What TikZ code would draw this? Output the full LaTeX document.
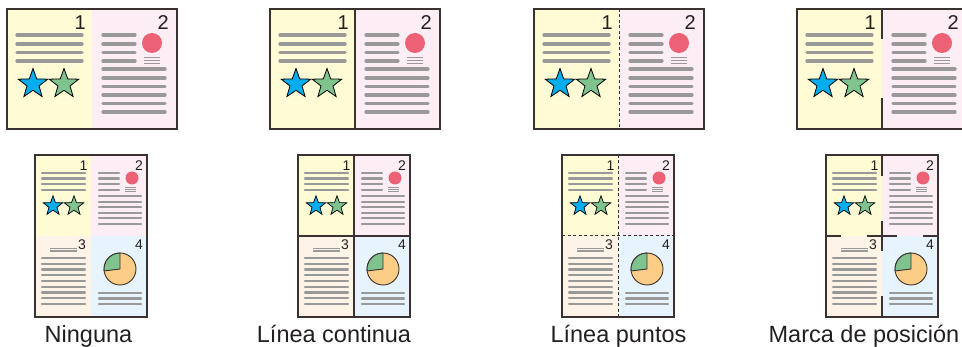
\documentclass[tikz,border=0pt]{standalone}
\usepackage{fontspec}
\setmainfont{Liberation Sans}
\usetikzlibrary{shapes.geometric}
\definecolor{pgyellow}{HTML}{FFFBD5}
\definecolor{pgpink}{HTML}{FDEDF4}
\definecolor{pgpeach}{HTML}{FEF3E7}
\definecolor{pgblue}{HTML}{E7F4FD}
\definecolor{txtline}{HTML}{999999}
\definecolor{framecol}{HTML}{3A3230}
\definecolor{starblue}{HTML}{00AEEF}
\definecolor{stargreen}{HTML}{7FC48F}
\definecolor{dotred}{HTML}{EC6173}
\definecolor{pieorange}{HTML}{FBCD86}
\definecolor{textcol}{HTML}{231F20}
\tikzset{
  bigtext/.style={line width=3.2pt, draw=txtline, line cap=round},
  smalltext/.style={line width=2.1pt, draw=txtline, line cap=round},
  tinytext/.style={line width=0.8pt, draw=txtline},
  frameline/.style={draw=framecol, line width=1.4pt},
  midsolid/.style={draw=framecol, line width=1.2pt},
  middash/.style={draw=framecol, line width=1pt, dash pattern=on 3pt off 2.5pt},
  starbig/.style={star, star points=5, star point ratio=2.45, minimum size=31pt, inner sep=0pt, draw=black, line width=0.8pt},
  starsmall/.style={star, star points=5, star point ratio=2.45, minimum size=20.5pt, inner sep=0pt, draw=black, line width=0.7pt},
  numbig/.style={font=\fontsize{20}{24}\selectfont, text=textcol, inner sep=0pt, anchor=base east},
  numsmall/.style={font=\fontsize{14}{17}\selectfont, text=textcol, inner sep=0pt, anchor=base east},
  label/.style={font=\fontsize{23.5}{28}\selectfont, text=textcol, inner sep=0pt, anchor=base},
}
\newcommand\topspread[3]{%
\begin{scope}[shift={(#1,#2)}]
  \fill[pgyellow] (0,0) rectangle (85,120);
  \fill[pgpink] (85,0) rectangle (170,120);
  \foreach \yy in {26,35,43.5,52} \draw[bigtext] (10,\yy) -- (75,\yy);
  \node[numbig] (#3na) at (79,21) {1};
  \node[starbig, fill=starblue] (#3sa) at (26,75) {};
  \node[starbig, fill=stargreen] (#3sb) at (57,75) {};
  \foreach \yy in {26,35,43.5,52} \draw[bigtext] (96,\yy) -- (128,\yy);
  \fill[dotred] (145,34) circle[radius=10pt];
  \foreach \yy in {48.5,51.5,54.5} \draw[tinytext] (137,\yy) -- (153,\yy);
  \foreach \yy in {60,69,77.5,86,94.5,103} \draw[bigtext] (96,\yy) -- (158,\yy);
  \node[numbig] (#3nb) at (162,21) {2};
  \draw[frameline] (0,0) rectangle (170,120);
\end{scope}}
\newcommand\fourup[3]{%
\begin{scope}[shift={(#1,#2)}]
  \fill[pgyellow] (0,0) rectangle (56,81);
  \fill[pgpink] (56,0) rectangle (112,81);
  \fill[pgpeach] (0,81) rectangle (56,162);
  \fill[pgblue] (56,81) rectangle (112,162);
  % page 1
  \foreach \yy in {17.7,23.5,29.3,35} \draw[smalltext] (7,\yy) -- (50,\yy);
  \node[numsmall] (#3na) at (52.5,16) {1};
  \node[starsmall, fill=starblue] (#3sa) at (18,51) {};
  \node[starsmall, fill=stargreen] (#3sb) at (39,51) {};
  % page 2
  \foreach \yy in {17.7,23.5,29.3} \draw[smalltext] (64,\yy) -- (84,\yy);
  \fill[dotred] (97,23) circle[radius=6.5pt];
  \foreach \yy in {32,34,36} \draw[tinytext] (90,\yy) -- (101,\yy);
  \draw[smalltext] (64,35) -- (84,35);
  \foreach \yy in {41,46.6,52.2,57.8,63.4,69} \draw[smalltext] (64,\yy) -- (106,\yy);
  \node[numsmall] (#3nb) at (108,16) {2};
  % page 3
  \foreach \yy in {93.3,95,96.7} \draw[tinytext] (15,\yy) -- (42,\yy);
  \node[numsmall] (#3nc) at (51,95) {3};
  \foreach \yy in {103,108.75,114.5,120.25,126,131.75,137.5,143.25,149} \draw[smalltext] (7,\yy) -- (50,\yy);
  % page 4
  \node[numsmall] (#3nd) at (108,95) {4};
  \coordinate (#3pc) at (85,114);
  \filldraw[fill=pieorange, draw=framecol, line width=0.9pt] (#3pc) circle[radius=16pt];
  \filldraw[fill=stargreen, draw=framecol, line width=0.9pt] (#3pc) -- ++(90:16pt) arc[start angle=90, end angle=187, radius=16pt] -- cycle;
  \foreach \yy in {138,143.5,149} \draw[smalltext] (64,\yy) -- (106,\yy);
  \draw[frameline] (0,0) rectangle (112,162);
\end{scope}}
\begin{document}
\begin{tikzpicture}[x=1pt, y=-1pt]
\useasboundingbox (0,0) rectangle (962,347);
% column 1: none
\topspread{7}{9}{a}
\fourup{35}{155}{b}
% column 2: solid line
\topspread{270}{9}{c}
\draw[midsolid] (355,9) -- (355,129);
\fourup{298}{155}{d}
\draw[midsolid] (354,155) -- (354,317);
\draw[midsolid] (298,236) -- (410,236);
% column 3: dashed line
\topspread{534}{9}{e}
\draw[middash] (619,9) -- (619,129);
\fourup{562}{155}{f}
\draw[middash] (618,155) -- (618,317);
\draw[middash] (562,236) -- (674,236);
% column 4: position marks
\topspread{797}{9}{g}
\draw[midsolid] (882,9) -- (882,39);
\draw[midsolid] (882,98) -- (882,129);
\fourup{826}{155}{h}
\draw[midsolid] (882,155) -- (882,176);
\draw[midsolid] (882,296) -- (882,317);
\draw[midsolid] (882,221) -- (882,251);
\draw[midsolid] (826,236) -- (841,236);
\draw[midsolid] (867,236) -- (897,236);
\draw[midsolid] (923,236) -- (938,236);
% labels
\node[label] (l1) at (88.5,343) {Ninguna};
\node[label] (l2) at (334,343) {Línea continua};
\node[label] (l3) at (618.5,343) {Línea puntos};
\node[label] (l4) at (864,343) {Marca de posición};
\end{tikzpicture}
\end{document}
